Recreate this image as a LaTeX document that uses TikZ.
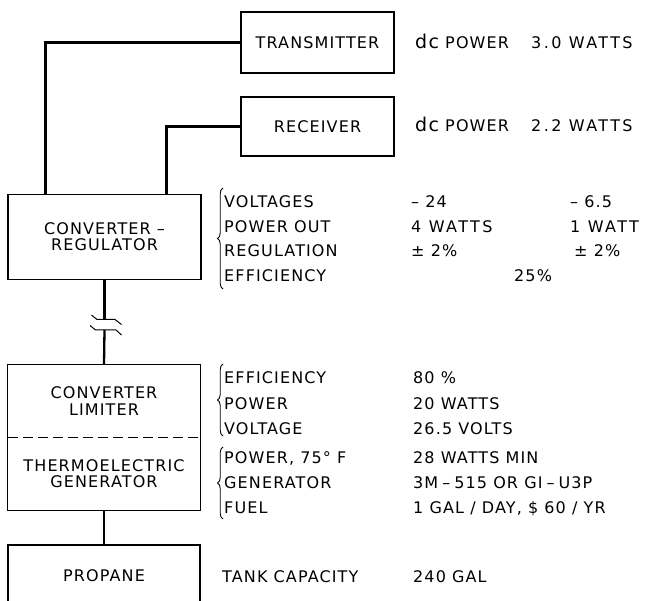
\documentclass[tikz,border=0pt]{standalone}
\usepackage{fontspec}
\setmainfont[LetterSpace=7]{DejaVu Sans}
\newfontfamily\widefont[LetterSpace=15]{DejaVu Sans}
\usetikzlibrary{decorations.pathreplacing,calc}
\newcommand{\dsp}{\hspace{4pt}}
\begin{document}
\begin{tikzpicture}[x=1pt,y=-1pt,
  every node/.style={inner sep=0pt, font=\fontsize{16}{15}\selectfont},
  box/.style={draw, line width=1.1pt},
  wire/.style={line width=2.3pt},
  lbl/.style={anchor=base west},
  wlbl/.style={anchor=base west, font=\widefont\fontsize{16}{15}\selectfont},
  brc/.style={decorate, decoration={brace, amplitude=5.5pt}, line width=0.9pt},
  brk/.style={line width=1pt}]
\useasboundingbox (0,0) rectangle (645,601);
% boxes
\node[box, minimum width=153pt, minimum height=61pt] (tx) at (317.5,42.5) {TRANSMITTER};
\node[box, minimum width=153pt, minimum height=59pt] (rx) at (317.5,126.5) {RECEIVER};
\node[box, minimum width=193pt, minimum height=85pt, align=center, font=\fontsize{16}{16}\selectfont] (creg) at (104.5,237) {CONVERTER –\\REGULATOR};
\node[minimum width=192pt, minimum height=72.5pt, align=center, font=\fontsize{16}{16.5}\selectfont] (clim) at (104,401.25) {CONVERTER\\LIMITER};
\node[minimum width=192pt, minimum height=72.5pt, align=center, font=\fontsize{16}{16}\selectfont] (teg) at (104,473.75) {THERMOELECTRIC\\GENERATOR};
\draw[line width=1.1pt] (clim.north west) rectangle (teg.south east);
\draw[dashed, dash pattern=on 10pt off 5pt, line width=1pt] (clim.south west) -- (clim.south east);
\node[box, minimum width=192pt, minimum height=62pt] (prop) at (104,576) {PROPANE};
% wires
\coordinate (c1) at ($(creg.north west)+(38,0)$);
\coordinate (c2) at ($(creg.north west)+(159,0)$);
\draw[wire] (tx.west) -| (c1);
\draw[wire] (rx.west) -| (c2);
\coordinate (b1) at (104.5,319.5);
\coordinate (b2) at (104.5,330);
\draw[wire] (creg.south) -- (b1);
\draw[wire] (b2) -- (clim.north);
\draw[brk] (91.5,315) -- (97,319.5) -- (115,319.5) -- (121.5,324.5);
\draw[brk] (90,325.5) -- (95.5,330) -- (116,330) -- (121.5,335);
\draw[wire] (teg.south) -- (prop.north);
% top texts
\node[lbl] (d1) at (415,49) {{\fontsize{19}{19}\selectfont dc} POWER};
\node[wlbl] (w1) at (531,49) {3.0 WATTS};
\node[lbl] (d2) at (415,132) {{\fontsize{19}{19}\selectfont dc} POWER};
\node[wlbl] (w2) at (531,132) {2.2 WATTS};
% braces
\draw[brc] (223,289) -- (223,188);
\draw[brc] (223,436) -- (223,364);
\draw[brc] (223,519) -- (223,447);
% converter-regulator data
\node[lbl] (l1) at (224,208) {VOLTAGES};
\node[lbl] (l2) at (224,233) {POWER OUT};
\node[lbl] (l3) at (224,257) {REGULATION};
\node[lbl] (l4) at (224,282) {EFFICIENCY};
\node[lbl] (v1) at (411,208) {– 24};
\node[wlbl] (v2) at (411,233) {4 WATTS};
\node[lbl] (v3) at (411,257) {± 2\%};
\node[lbl] (u1) at (570,208) {– 6.5};
\node[wlbl] (u2) at (570,233) {1 WATT};
\node[lbl] (u3) at (574,257) {± 2\%};
\node[lbl] (e1) at (514,282) {25\%};
% limiter data
\node[lbl] (m1) at (224,384) {EFFICIENCY};
\node[lbl] (m2) at (224,409) {POWER};
\node[lbl] (m3) at (224,434) {VOLTAGE};
\node[lbl] (n1) at (413,384) {80 \%};
\node[lbl] (n2) at (413,409) {20 WATTS};
\node[lbl] (n3) at (413,434) {26.5 VOLTS};
% generator data
\node[lbl] (g1) at (224,463) {POWER, 75° F};
\node[lbl] (g2) at (224,488) {GENERATOR};
\node[lbl] (g3) at (224,513) {FUEL};
\node[lbl] (h1) at (413,463) {28 WATTS MIN};
\node[lbl] (h2) at (413,488) {3M\dsp–\dsp515 OR GI\dsp–\dsp U3P};
\node[lbl] (h3) at (413,513) {1 GAL / DAY, \$ 60 / YR};
% propane data
\node[lbl] (p1) at (222,582) {TANK CAPACITY};
\node[lbl] (p2) at (413,582) {240 GAL};
\end{tikzpicture}
\end{document}
